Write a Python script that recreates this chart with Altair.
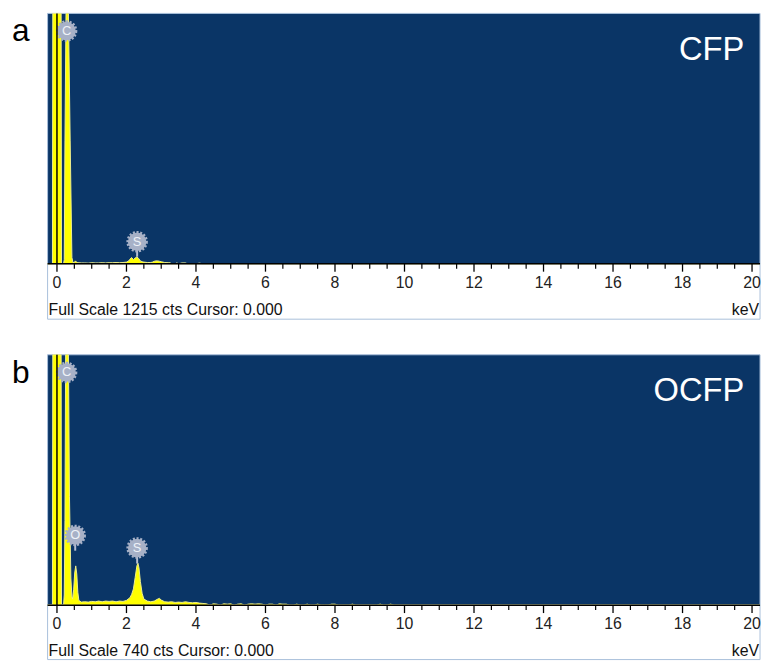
import altair as alt
import pandas as pd

# ---------------- data ----------------
full_scale_a = 1215
full_scale_b = 740

energy_a = [-0.27, -0.13, -0.12, 0.12, 0.13, 0.19, 0.21, 0.23, 0.26, 0.28, 0.31, 0.33, 0.38,
            0.43, 0.46, 0.5, 0.53, 0.56, 0.6, 0.7, 0.8, 0.9, 1.0, 1.1, 1.2, 1.3, 1.4, 1.5,
            1.6, 1.7, 1.8, 1.9, 2.0, 2.05, 2.1, 2.15, 2.2, 2.25, 2.3, 2.35, 2.4, 2.45, 2.5,
            2.6, 2.7, 2.75, 2.8, 2.85, 2.9, 2.95, 3.0, 3.1, 3.2, 3.25, 3.3, 3.4, 3.45, 3.5,
            3.6, 3.7, 3.75, 3.8, 3.9, 4.0, 4.1, 4.2, 20.23]
counts_a = [0, 0, 3000, 3000, 0, 0, 20, 600, 1215, 3000, 3000, 1215, 600,
            30, 6, 6, 14, 8, 5, 4, 4, 3, 5, 4, 4, 5, 4, 5,
            5, 6, 5, 6, 8, 12, 22, 30, 20, 28, 33, 26, 14, 10, 8,
            6, 6, 8, 12, 14, 14, 12, 10, 6, 5, 5, 0, 0, 4, 0,
            4, 4, 0, 0, 0, 0, 3, 0, 0]

energy_b = [-0.27, -0.13, -0.12, 0.12, 0.13, 0.19, 0.21, 0.23, 0.25, 0.27, 0.31, 0.33, 0.36,
            0.4, 0.43, 0.45, 0.48, 0.51, 0.54, 0.57, 0.6, 0.63, 0.7, 0.8, 0.9, 1.0, 1.1,
            1.2, 1.3, 1.4, 1.5, 1.6, 1.7, 1.8, 1.9, 2.0, 2.1, 2.15, 2.2, 2.25, 2.3, 2.33,
            2.36, 2.4, 2.45, 2.5, 2.6, 2.7, 2.8, 2.9, 2.95, 3.0, 3.1, 3.2, 3.3, 3.4, 3.5,
            3.6, 3.7, 3.8, 3.9, 4.0, 4.1, 4.2, 4.3, 4.4, 4.5, 4.6, 4.7, 4.8, 4.9, 5.0,
            5.1, 5.2, 5.3, 5.4, 5.5, 5.6, 5.7, 5.8, 5.9, 6.0, 6.1, 6.2, 6.3, 6.4, 6.5,
            6.6, 6.7, 6.8, 6.9, 7.0, 7.1, 7.2, 7.3, 7.4, 7.5, 7.6, 7.7, 7.8, 7.9, 8.0,
            8.1, 8.2, 8.4, 8.5, 8.6, 9.2, 9.3, 9.4, 9.5, 9.6, 9.7, 20.23]
counts_b = [0, 0, 2000, 2000, 0, 0, 30, 250, 740, 2000, 2000, 740, 320,
            80, 25, 18, 45, 95, 116, 92, 38, 14, 9, 10, 9, 11, 10,
            12, 10, 12, 11, 12, 10, 12, 11, 14, 22, 32, 48, 82, 116, 124,
            110, 70, 35, 18, 12, 10, 12, 18, 20, 15, 10, 9, 10, 8, 9,
            8, 10, 8, 7, 8, 6, 5, 4, 0, 4, 3, 0, 4, 3, 4,
            0, 3, 4, 0, 3, 4, 3, 4, 3, 0, 3, 3, 0, 4, 3,
            3, 0, 0, 3, 0, 0, 3, 0, 0, 3, 0, 0, 0, 3, 3,
            0, 0, 0, 3, 0, 0, 3, 0, 0, 3, 0, 0]

elements_a = ["C", "S"]
line_energy_a = [0.277, 2.307]
marker_top_a = [1130, 107]
marker_stem_a = [1130, 34]

elements_b = ["C", "O", "S"]
line_energy_b = [0.277, 0.525, 2.307]
marker_top_b = [688, 206, 169]
marker_stem_b = [688, 161, 123]

tick_values = [0, 0.5, 1, 1.5, 2, 2.5, 3, 3.5, 4, 4.5, 5, 5.5, 6, 6.5, 7, 7.5, 8, 8.5,
               9, 9.5, 10, 10.5, 11, 11.5, 12, 12.5, 13, 13.5, 14, 14.5, 15, 15.5, 16,
               16.5, 17, 17.5, 18, 18.5, 19, 19.5, 20]

# ---------------- layout (pixels inside the chart) ----------------
W = 720
H = 253              # plot height of each panel
TOP_A = 0
BOX_A = 56
TOP_B = 345
BOX_B = 55
TOTAL_H = TOP_B + H + BOX_B
FONT = "Liberation Sans"
NAVY = "#0a3566"
FRAME = "#a9bfdb"

one = pd.DataFrame({"k": [0]})
ticks_df = pd.DataFrame({"v": tick_values})
xs = alt.Scale(domain=[-0.27, 20.23], nice=False, zero=False)


def panel(energy, counts, full_scale, elements, m_e, m_top, m_stem, letter, name, y0, box):
    spec = pd.DataFrame({"e": energy, "c": counts})
    mk = pd.DataFrame({"el": elements, "e": m_e, "h": m_top, "s": m_stem})
    yb = y0 + H
    ys = alt.Scale(domain=[0, full_scale], range=[yb, y0], clamp=True, nice=False, zero=True)

    bg = alt.Chart(one).mark_rect(fill=NAVY, stroke=FRAME, strokeWidth=1).encode(
        x=alt.value(0), x2=alt.value(W), y=alt.value(y0), y2=alt.value(yb))
    box_r = alt.Chart(one).mark_rect(fill="white", stroke=FRAME, strokeWidth=1).encode(
        x=alt.value(0), x2=alt.value(W), y=alt.value(yb), y2=alt.value(yb + box))

    area = alt.Chart(spec).mark_area(
        fill="#ffff00", stroke="#eeee90", strokeWidth=1, interpolate="linear"
    ).encode(x=alt.X("e:Q", scale=xs, axis=None), y=alt.Y("c:Q", scale=ys, axis=None))

    stems = alt.Chart(mk).mark_rule(color="#b5bed2", strokeWidth=2).encode(
        x=alt.X("e:Q", scale=xs, axis=None), y=alt.Y("h:Q", scale=ys, axis=None), y2="s:Q")

    circles = alt.Chart(mk).mark_point(
        shape="circle", filled=True, fill="#a7b1c7", stroke="#a7b1c7", strokeWidth=3,
        strokeDash=[2, 1.6], size=350, opacity=1, fillOpacity=1
    ).encode(x=alt.X("e:Q", scale=xs, axis=None), y=alt.Y("h:Q", scale=ys, axis=None))

    mlabels = alt.Chart(mk).mark_text(
        color="#eef2f8", fontSize=13, font=FONT, baseline="middle", align="center"
    ).encode(x=alt.X("e:Q", scale=xs, axis=None), y=alt.Y("h:Q", scale=ys, axis=None),
             text="el:N")

    data_layer = alt.layer(area, stems, circles, mlabels)

    cursor = alt.Chart(pd.DataFrame({"e": [0.0]})).mark_rule(color="black", strokeWidth=1.5).encode(
        x=alt.X("e:Q", scale=xs, axis=None), y=alt.value(y0), y2=alt.value(yb))

    domain = alt.Chart(one).mark_rule(color="black", strokeWidth=1.5).encode(
        x=alt.value(0), x2=alt.value(W), y=alt.value(yb))
    major = alt.Chart(ticks_df).transform_filter("datum.v % 2 === 0").mark_rule(
        color="black", strokeWidth=1.3).encode(
        x=alt.X("v:Q", scale=xs, axis=None), y=alt.value(yb), y2=alt.value(yb + 8))
    minor = alt.Chart(ticks_df).transform_filter("datum.v % 2 !== 0").mark_rule(
        color="black", strokeWidth=1.2).encode(
        x=alt.X("v:Q", scale=xs, axis=None), y=alt.value(yb), y2=alt.value(yb + 5))
    tlabels = alt.Chart(ticks_df).transform_filter("datum.v % 2 === 0").mark_text(
        baseline="top", align="center", fontSize=16, font=FONT, color="#222222").encode(
        x=alt.X("v:Q", scale=xs, axis=None), y=alt.value(yb + 11), text="v:Q")

    letter_t = alt.Chart(one).mark_text(
        align="left", baseline="alphabetic", fontSize=32, font=FONT, color="black"
    ).encode(x=alt.value(-36), y=alt.value(y0 + 28), text=alt.value(letter))

    name_t = alt.Chart(one).mark_text(
        align="right", baseline="alphabetic", fontSize=33, font=FONT, color="white"
    ).encode(x=alt.value(704), y=alt.value(y0 + 47), text=alt.value(name))

    fs_t = alt.Chart(one).mark_text(
        align="left", baseline="alphabetic", fontSize=16, font=FONT, color="#111111"
    ).encode(x=alt.value(1), y=alt.value(yb + box - 4),
             text=alt.value(f"Full Scale {full_scale} cts Cursor: 0.000"))

    kev_t = alt.Chart(one).mark_text(
        align="right", baseline="alphabetic", fontSize=16, font=FONT, color="#111111"
    ).encode(x=alt.value(W - 1), y=alt.value(yb + box - 4), text=alt.value("keV"))

    back = [bg, box_r]
    front = [cursor, domain, major, minor, tlabels, letter_t, name_t, fs_t, kev_t]
    return back, data_layer, front


back_a, data_a, front_a = panel(energy_a, counts_a, full_scale_a, elements_a, line_energy_a,
                                marker_top_a, marker_stem_a, "a", "CFP", TOP_A, BOX_A)
back_b, data_b, front_b = panel(energy_b, counts_b, full_scale_b, elements_b, line_energy_b,
                                marker_top_b, marker_stem_b, "b", "OCFP", TOP_B, BOX_B)

chart = alt.layer(
    *back_a, *back_b, data_a, data_b, *front_a, *front_b
).resolve_scale(y="independent").properties(
    width=W, height=TOTAL_H,
    autosize=alt.AutoSizeParams(type="none"),
    padding={"left": 40, "top": 2, "right": 3, "bottom": 0},
).configure_view(stroke=None, strokeWidth=0)

chart.save("out.html", embed_options={"renderer": "svg", "actions": False})
